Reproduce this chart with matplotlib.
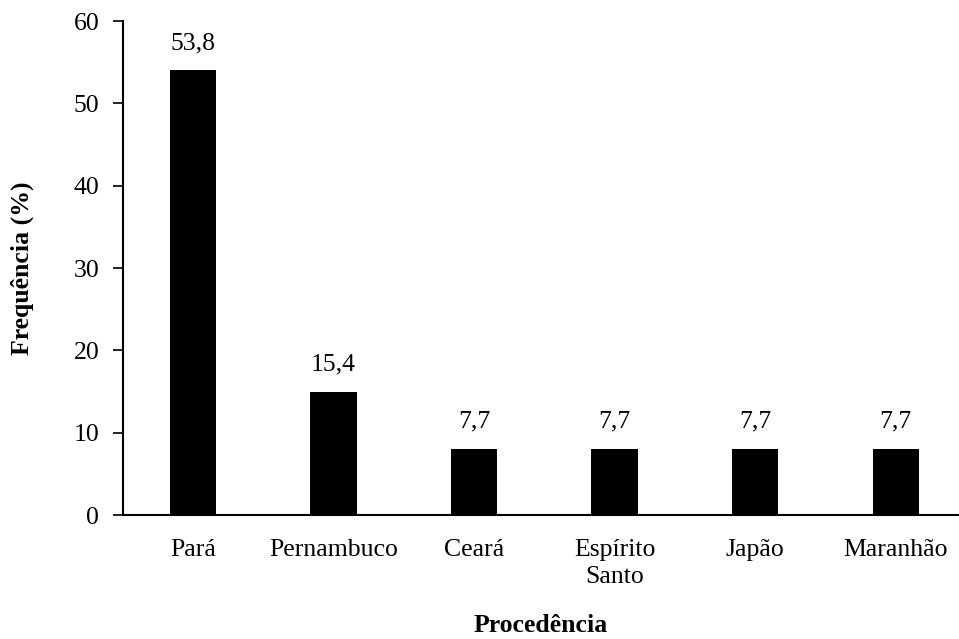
import matplotlib.pyplot as plt
import numpy as np

plt.rcParams['font.family'] = ['Liberation Serif', 'DejaVu Serif']

# Data
categorias = ['Pará', 'Pernambuco', 'Ceará', 'Espírito\nSanto', 'Japão', 'Maranhão']
alturas = [54, 15, 8, 8, 8, 8]
rotulos = ['53,8', '15,4', '7,7', '7,7', '7,7', '7,7']

fig = plt.figure(figsize=(9.59, 6.39), dpi=100)
ax = fig.add_axes([0.128, 0.194, 0.872, 0.773])

x = np.arange(len(categorias))
ax.bar(x, alturas, width=0.33, color='black')

for xi, h, r in zip(x, alturas, rotulos):
    ax.text(xi, h + 2, r, ha='center', va='bottom', fontsize=18.5)

ax.set_xlim(-0.5, 5.45)
ax.set_ylim(0, 60)
ax.set_yticks(range(0, 61, 10))
ax.set_xticks(x)
ax.set_xticklabels(categorias, linespacing=1.3)
ax.tick_params(axis='x', length=0, pad=17, labelsize=18.5)
ax.tick_params(axis='y', direction='out', length=7, width=1.2, labelsize=18.5, pad=10)

for s in ['top', 'right']:
    ax.spines[s].set_visible(False)
ax.spines['left'].set_linewidth(1.5)
ax.spines['bottom'].set_linewidth(1.5)

ax.set_ylabel('Frequência (%)', fontsize=18.5, fontweight='bold')
ax.set_xlabel('Procedência', fontsize=18.5, fontweight='bold')
ax.yaxis.set_label_coords(-0.106, 0.5)
ax.xaxis.set_label_coords(0.5, -0.2)

fig.savefig('out.png', dpi=100)
